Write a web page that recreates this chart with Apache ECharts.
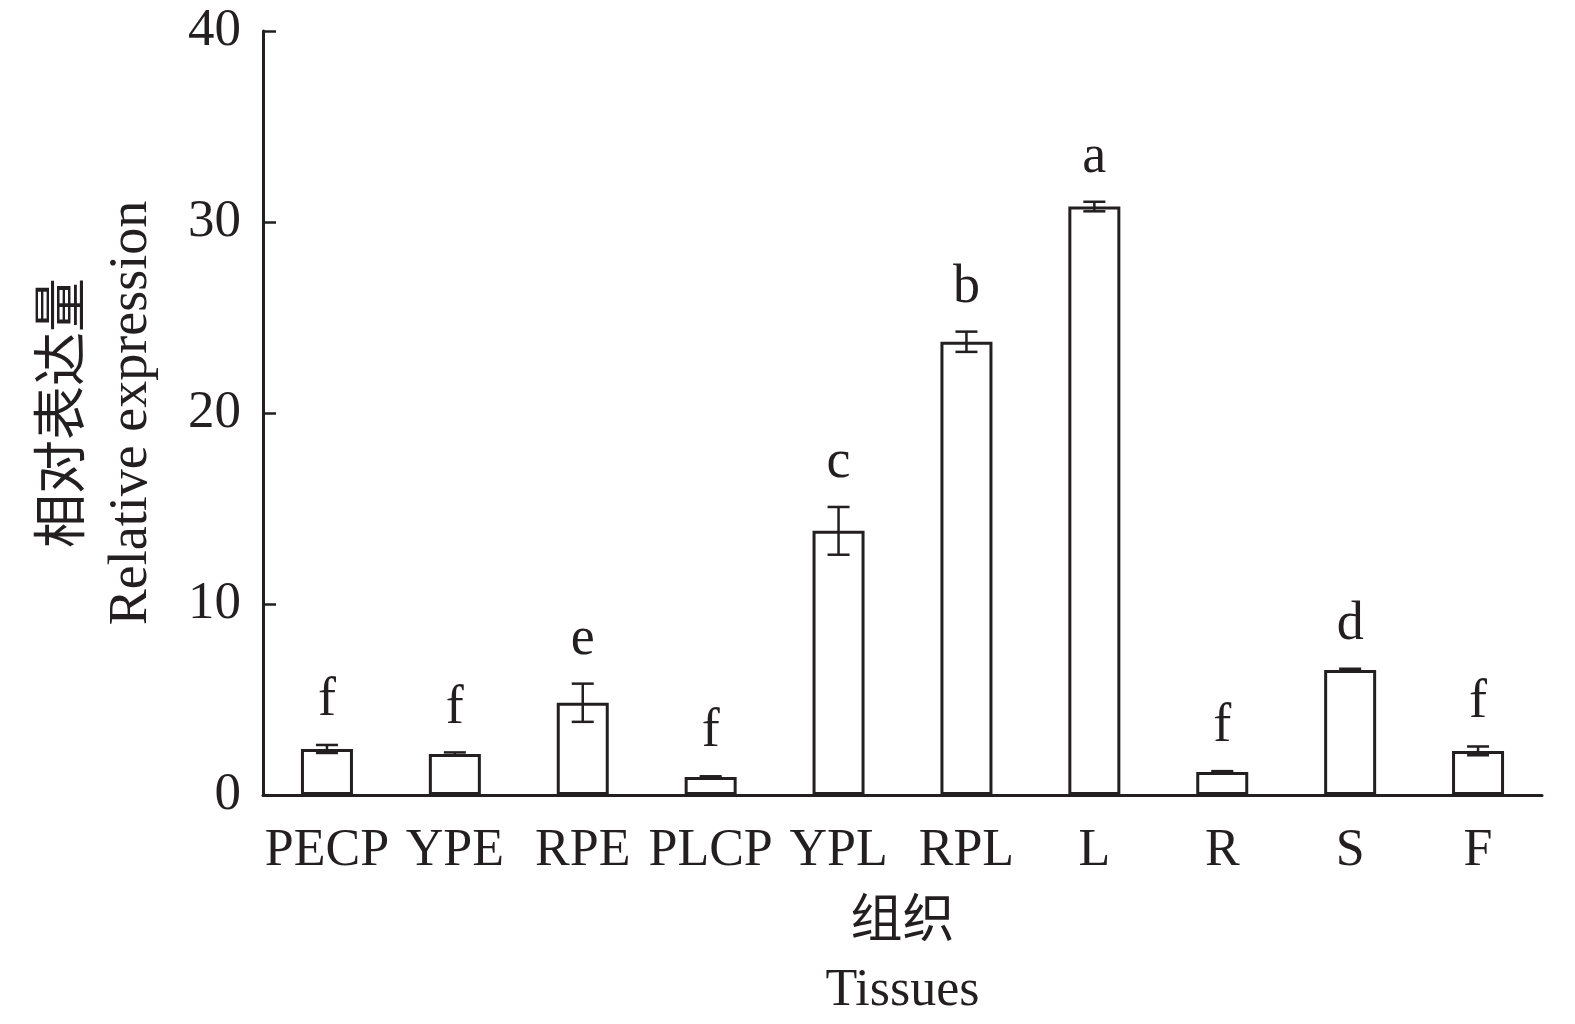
<!DOCTYPE html>
<html>
<head>
<meta charset="utf-8">
<script src="https://cdn.jsdelivr.net/npm/echarts@6/dist/echarts.min.js"></script>
<style>
  html, body { margin: 0; padding: 0; background: #fff; }
  #chart { width: 1575px; height: 1024px; }
</style>
</head>
<body>
<div id="chart"></div>
<script>
// 组织名称
const tissues = ['PECP', 'YPE', 'RPE', 'PLCP', 'YPL', 'RPL', 'L', 'R', 'S', 'F'];
// 相对表达量均值
const means = [2.41, 2.15, 4.83, 0.94, 13.83, 23.73, 30.81, 1.21, 6.55, 2.31];
// 标准误
const errors = [0.21, 0.08, 1.0, 0.04, 1.25, 0.53, 0.25, 0.04, 0.06, 0.23];
// 显著性字母
const letters = ['f', 'f', 'e', 'f', 'c', 'b', 'a', 'f', 'd', 'f'];
const yTicks = [0, 10, 20, 30, 40];

const ink = '#231f20';
const font = '"Liberation Serif", "Times New Roman", serif';
const cjkFont = '"Liberation Serif", "Noto Sans CJK SC", serif';

const chart = echarts.init(document.getElementById('chart'));

const errData = tissues.map((t, i) => [i, means[i], errors[i], letters[i]]);

const option = {
  animation: false,
  grid: { left: 263, right: 33, top: 31, bottom: 229, outerBoundsMode: 'none', containLabel: false },
  xAxis: {
    type: 'category',
    data: tissues,
    name: '组织\nTissues',
    nameLocation: 'middle',
    nameGap: 94,
    nameTextStyle: { fontFamily: cjkFont, fontSize: 52, color: ink, lineHeight: 68 },
    axisLine: { lineStyle: { color: ink, width: 3 } },
    axisTick: { inside: true, length: 12, lineStyle: { color: ink, width: 2.5 } },
    axisLabel: { interval: 0, fontFamily: font, fontSize: 52, color: ink, margin: 30 }
  },
  yAxis: {
    type: 'value',
    min: 0,
    max: 40,
    interval: 10,
    name: '相对表达量\nRelative expression',
    nameLocation: 'middle',
    nameRotate: 90,
    nameGap: 98,
    nameTextStyle: { fontFamily: cjkFont, fontSize: 54, color: ink, lineHeight: 66 },
    axisLine: { show: true, lineStyle: { color: ink, width: 3 } },
    axisTick: { show: true, inside: true, length: 13, lineStyle: { color: ink, width: 2.5 } },
    axisLabel: {
      fontFamily: font, fontSize: 53, color: ink, margin: 22,
      formatter: v => (yTicks.includes(v) ? String(v) : '')
    },
    splitLine: { show: false }
  },
  series: [
    {
      type: 'bar',
      data: means,
      barWidth: 52,
      itemStyle: { color: '#fff', borderColor: ink, borderWidth: 3 }
    },
    {
      type: 'custom',
      data: errData,
      z: 5,
      renderItem: (params, api) => {
        const idx = api.value(0);
        const m = api.value(1);
        const e = api.value(2);
        const top = api.coord([idx, m + e]);
        const bot = api.coord([idx, m - e]);
        const cap = 11;
        const style = { stroke: ink, lineWidth: 2.5 };
        return {
          type: 'group',
          children: [
            { type: 'line', shape: { x1: top[0], y1: top[1], x2: bot[0], y2: bot[1] }, style },
            { type: 'line', shape: { x1: top[0] - cap, y1: top[1], x2: top[0] + cap, y2: top[1] }, style },
            { type: 'line', shape: { x1: bot[0] - cap, y1: bot[1], x2: bot[0] + cap, y2: bot[1] }, style },
            {
              type: 'text',
              style: {
                x: top[0],
                y: top[1] - 17,
                text: letters[params.dataIndex],
                fill: ink,
                font: '54px ' + font,
                align: 'center',
                verticalAlign: 'bottom'
              }
            }
          ]
        };
      }
    }
  ]
};

chart.setOption(option);
window.addEventListener('resize', () => chart.resize());
</script>
</body>
</html>
